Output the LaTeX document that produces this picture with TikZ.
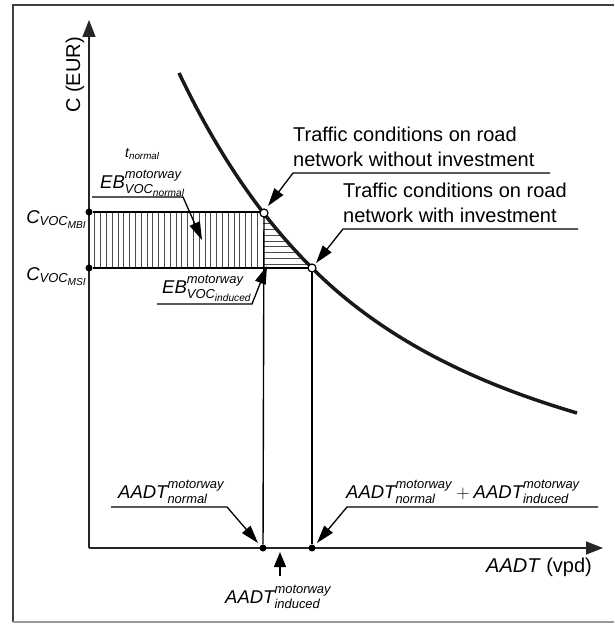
\documentclass[tikz,border=0pt]{standalone}
\usepackage{fix-cm}
\usepackage{amsmath}
\usepackage{fontspec}
\setmainfont{Liberation Sans}
\usetikzlibrary{arrows.meta}
\renewcommand{\defaultscriptscriptratio}{.55}
\newcommand{\mi}[1]{\textit{#1}}
\begin{document}
\begin{tikzpicture}[x=1pt,y=-1pt,
  lbl/.style={inner sep=0pt, font=\fontsize{18.5}{22}\selectfont},
  txt/.style={inner sep=0pt, font=\fontsize{20}{24}\selectfont},
  smalltxt/.style={inner sep=0pt, font=\fontsize{14}{17}\selectfont},
  axisline/.style={line width=1.6pt, draw=black!85, -{Triangle[length=17pt,width=13pt]}},
  leader/.style={line width=1.3pt, -{Triangle[length=18pt,width=11pt]}},
  upleader/.style={line width=1.3pt, -{Triangle[length=15pt,width=12pt]}},
  thinline/.style={line width=1.4pt},
  hatchline/.style={line width=0.8pt, draw=black!70},
  soliddot/.style={circle, fill=black, inner sep=0pt, minimum size=7pt},
  opendot/.style={circle, draw=black, fill=white, line width=1.2pt, inner sep=0pt, minimum size=8pt},
  curveline/.style={line width=3.5pt, draw=black!90},
]
\useasboundingbox (0,0) rectangle (614,626);
% frame
\draw[line width=1.8pt, draw=black!75] (614,5) -- (13,5) -- (13,622);
\draw[line width=1.4pt, draw=black!40] (13,622) -- (614,622);

% axes
\coordinate (origin) at (89,548);
\coordinate (ytip) at (89,20);
\coordinate (xtip) at (603,548);
\draw[axisline] (origin) -- (ytip);
\draw[axisline] (origin) -- (xtip);

% hatching: vertical lines in rectangle
\foreach \i in {1,...,29}
  \draw[hatchline] ({89+5.8*\i},212) -- ({89+5.8*\i},268);
% hatching: horizontal lines in triangle
\begin{scope}
  \clip (263,212) rectangle (400,268);
  \clip (179,73) .. controls (223,165) and (268,224) .. (312,268)
        .. controls (390,346) and (489,387) .. (577,413)
        -- (577,600) -- (0,600) -- (0,73) -- cycle;
  \foreach \i in {1,...,9}
    \draw[hatchline] (263,{212+5.8*\i}) -- (400,{212+5.8*\i});
\end{scope}

% points
\node[soliddot] (mbi) at (89,212) {};
\node[soliddot] (msi) at (89,268) {};
\node[soliddot] (xn) at (263,548) {};
\node[soliddot] (xs) at (312,548) {};
\coordinate (p1) at (264,213);
\coordinate (p2) at (312,268);

\draw[thinline] (mbi) -- (p1 |- mbi);
\draw[thinline] (msi) -- (p2);
\draw[thinline] (p1) -- (xn);
\draw[thinline] (p2) -- (xs);

% demand curve
\draw[curveline] (179,73) .. controls (223,165) and (268,224) .. (312,268)
        .. controls (390,346) and (489,387) .. (577,413);

\node[opendot] (o1) at (p1) {};
\node[opendot] (o2) at (p2) {};

% axis labels
\node[txt, rotate=90, anchor=base] (ylab) at (80,75) {C (EUR)};
\node[txt, anchor=base west] (xlab) at (486,572) {\mi{AADT} (vpd)};

% t normal
\node[smalltxt, anchor=base west] (tn) at (125,157) {$\mi{t}_{\mi{normal}}$};

% C labels
\node[lbl, anchor=base east] (cmbil) at (87,223) {$\mi{C}_{\mi{VOC}_{\mi{MBI}}}$};
\node[lbl, anchor=base east] (cmsil) at (87,280) {$\mi{C}_{\mi{VOC}_{\mi{MSI}}}$};

% EB normal
\node[lbl, anchor=base west] (ebn) at (100,188) {$\mi{EB}^{\mi{motorway}}_{\mi{VOC}_{\mi{normal}}}$};
\coordinate (ebnA) at (92,197);
\coordinate (ebnB) at (183,197);
\coordinate (ebnT) at (202,240);
\draw[leader] (ebnA) -- (ebnB) -- (ebnT);

% EB induced
\node[lbl, anchor=base west] (ebi) at (162,293) {$\mi{EB}^{\mi{motorway}}_{\mi{VOC}_{\mi{induced}}}$};
\coordinate (ebiA) at (157,304);
\coordinate (ebiB) at (252,304);
\coordinate (ebiT) at (267,266);
\draw[leader] (ebiA) -- (ebiB) -- (ebiT);

% traffic conditions without investment
\node[txt, anchor=base west] (wo1) at (293,141) {Traffic conditions on road};
\node[txt, anchor=base west] (wo2) at (293,166) {network without investment};
\coordinate (woA) at (550,173);
\coordinate (woB) at (293,173);
\coordinate (woT) at (268,206);
\draw[leader] (woA) -- (woB) -- (woT);

% traffic conditions with investment
\node[txt, anchor=base west] (wi1) at (343,197) {Traffic conditions on road};
\node[txt, anchor=base west] (wi2) at (343,222) {network with investment};
\coordinate (wiA) at (578,229);
\coordinate (wiB) at (343,229);
\coordinate (wiT) at (316,263);
\draw[leader] (wiA) -- (wiB) -- (wiT);

% AADT normal
\node[lbl, anchor=base west] (an) at (118,498) {$\mi{AADT}^{\mi{motorway}}_{\mi{normal}}$};
\coordinate (anA) at (111,507);
\coordinate (anB) at (227,507);
\coordinate (anT) at (258,543);
\draw[leader] (anA) -- (anB) -- (anT);

% AADT normal + induced
\node[lbl, anchor=base west] (as) at (346,498) {$\mi{AADT}^{\mi{motorway}}_{\mi{normal}}+\mi{AADT}^{\mi{motorway}}_{\mi{induced}}$};
\coordinate (asA) at (598,507);
\coordinate (asB) at (347,507);
\coordinate (asT) at (317,543);
\draw[leader] (asA) -- (asB) -- (asT);

% AADT induced
\node[lbl, anchor=base west] (ai) at (225,603) {$\mi{AADT}^{\mi{motorway}}_{\mi{induced}}$};
\coordinate (aiA) at (280,576);
\coordinate (aiT) at (280,552);
\draw[upleader] (aiA) -- (aiT);
\end{tikzpicture}
\end{document}
